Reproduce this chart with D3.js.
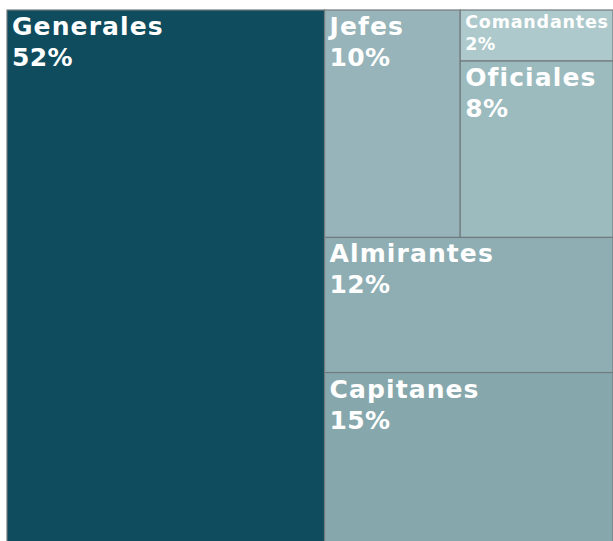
<!DOCTYPE html>
<html>
<head>
<meta charset="utf-8">
<script src="https://cdn.jsdelivr.net/npm/d3@7"></script>
<style>
  html, body { margin: 0; padding: 0; background: #fff; overflow: hidden; }
  svg { display: block; }
  .lbl { font-family: "DejaVu Sans", sans-serif; font-weight: bold; fill: #fff; }
</style>
</head>
<body>
<script>
const w = 613;
const h = 541;

// categories and their share (percent), in the order they are laid out
const categories = ["Generales", "Jefes", "Comandantes", "Oficiales", "Almirantes", "Capitanes"];
const shares = [52.4, 9.5, 2.4, 8.3, 12.0, 15.4];
const colors = ["#0e4c5e", "#96b4b9", "#adc9cb", "#9bbbbf", "#8eaeb3", "#86a8ad"];

const val = (name) => ({ name: name, value: shares[categories.indexOf(name)] });

// nesting reproduces the original layout: one column, then stacked rows
const data = {
  name: "root",
  children: [
    val("Generales"),
    { name: "resto", children: [
      { name: "arriba", children: [
        val("Jefes"),
        { name: "par", children: [val("Comandantes"), val("Oficiales")] }
      ]},
      val("Almirantes"),
      val("Capitanes")
    ]}
  ]
};

const root = d3.hierarchy(data).sum((d) => d.value || 0);

const tile = (node, x0, y0, x1, y1) => {
  if (node.depth % 2 === 0) d3.treemapDice(node, x0, y0, x1, y1);
  else d3.treemapSlice(node, x0, y0, x1, y1);
};

d3.treemap()
  .tile(tile)
  .size([606, 536])
  .round(false)(root);

const color = d3.scaleOrdinal().domain(categories).range(colors);

const svg = d3.select("body")
  .append("svg")
  .attr("width", w)
  .attr("height", h);

const g = svg.append("g").attr("transform", "translate(7,10)");

const leaves = g.selectAll("g.leaf")
  .data(root.leaves())
  .enter()
  .append("g")
  .attr("class", "leaf")
  .attr("transform", (d) => "translate(" + d.x0 + "," + d.y0 + ")");

leaves.append("rect")
  .attr("width", (d) => d.x1 - d.x0)
  .attr("height", (d) => d.y1 - d.y0)
  .attr("fill", (d) => color(d.data.name))
  .attr("stroke", "#737b7e")
  .attr("stroke-width", 1.2);

leaves.each(function(d) {
  const small = (d.y1 - d.y0) < 80;
  const size = small ? 17.5 : 25;
  const gap = small ? 22 : 31;
  const first = small ? 18 : 25;
  const spacing = small ? 0.8 : 1.1;
  const t = d3.select(this);
  t.append("text")
    .attr("class", "lbl")
    .attr("x", 5)
    .attr("y", first)
    .style("font-size", size + "px")
    .style("letter-spacing", spacing + "px")
    .text(d.data.name);
  t.append("text")
    .attr("class", "lbl")
    .attr("x", 5)
    .attr("y", first + gap)
    .style("font-size", size + "px")
    .style("letter-spacing", "0.3px")
    .text(Math.round(d.data.value) + "%");
});
</script>
</body>
</html>
